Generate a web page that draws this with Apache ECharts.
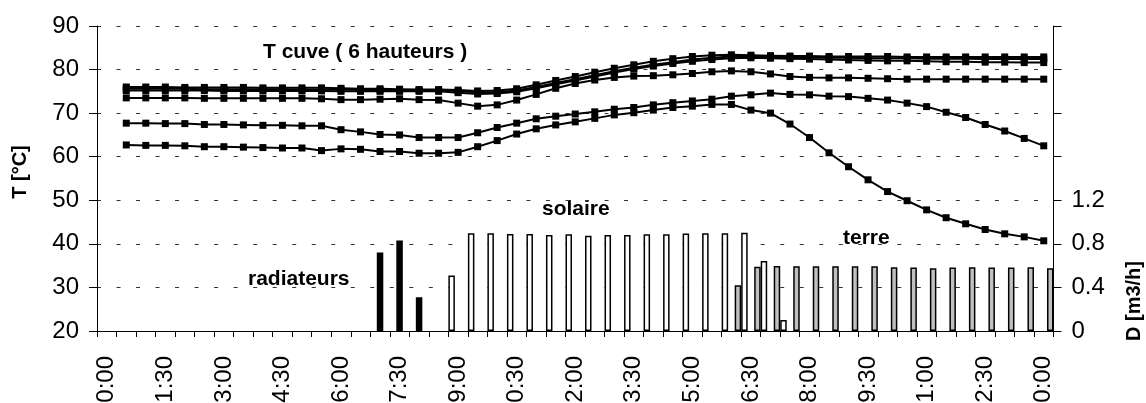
<!DOCTYPE html>
<html><head><meta charset="utf-8">
<script src="https://cdn.jsdelivr.net/npm/echarts@6/dist/echarts.min.js"></script>
<style>html,body{margin:0;padding:0;background:#fff}#c{width:1146px;height:403px}</style>
</head><body><div id="c"></div>
<script>
var categories = ["0:00","0:30","1:00","1:30","2:00","2:30","3:00","3:30","4:00","4:30","5:00","5:30","6:00","6:30","7:00","7:30","8:00","8:30","9:00","9:30","10:00","10:30","11:00","11:30","12:00","12:30","13:00","13:30","14:00","14:30","15:00","15:30","16:00","16:30","17:00","17:30","18:00","18:30","19:00","19:30","20:00","20:30","21:00","21:30","22:00","22:30","23:00","23:30","0:00"];
var yLeftTicks = [20,30,40,50,60,70,80,90];
var yRightTicks = ["0","0.4","0.8","1.2"];
// tank temperatures (6 heights), values at 0:30 .. 24:00
var t1 = [76.0,76.0,76.0,75.9,75.9,75.9,75.9,75.8,75.8,75.8,75.8,75.7,75.6,75.6,75.5,75.4,75.4,75.3,75.1,75.2,75.6,76.5,77.5,78.4,79.4,80.3,81.1,81.9,82.5,83.0,83.3,83.4,83.3,83.2,83.1,83.1,83.0,83.0,83.0,83.0,82.9,82.9,82.9,82.9,82.9,82.9,82.9,82.9];
var t2 = [75.6,75.6,75.6,75.6,75.5,75.5,75.5,75.5,75.5,75.4,75.4,75.4,75.3,75.3,75.3,75.3,75.3,75.0,74.8,74.8,75.2,76.0,76.9,77.8,78.7,79.6,80.4,81.1,81.7,82.3,82.7,83.0,83.0,82.9,82.8,82.8,82.7,82.7,82.6,82.6,82.6,82.5,82.5,82.5,82.4,82.4,82.4,82.4];
var t3 = [75.2,75.2,75.2,75.2,75.2,75.1,75.1,75.1,75.1,75.1,75.1,75.0,75.0,75.0,75.0,75.0,75.0,74.7,74.4,74.5,74.9,75.7,76.6,77.5,78.4,79.3,80.1,80.8,81.4,81.9,82.3,82.6,82.7,82.6,82.5,82.4,82.3,82.2,82.1,82.0,82.0,81.9,81.8,81.8,81.7,81.7,81.6,81.6];
var t4 = [73.5,73.5,73.5,73.5,73.4,73.4,73.4,73.4,73.4,73.4,73.3,73.1,73.1,73.2,73.3,73.1,73.0,72.3,71.6,71.9,73.0,74.3,75.7,76.8,77.6,78.2,78.5,78.6,78.8,79.1,79.5,79.7,79.5,79.0,78.4,78.2,78.1,78.1,78.0,77.9,77.8,77.8,77.8,77.8,77.8,77.8,77.8,77.8];
var t5 = [67.7,67.7,67.6,67.6,67.4,67.4,67.3,67.2,67.2,67.1,67.1,66.2,65.7,65.1,65.0,64.4,64.4,64.4,65.5,66.7,67.7,68.7,69.3,69.8,70.3,70.9,71.3,71.9,72.4,72.8,73.2,73.9,74.2,74.6,74.3,74.2,73.9,73.8,73.4,73.0,72.3,71.5,70.2,69.0,67.4,65.9,64.2,62.5];
var t6 = [62.7,62.6,62.6,62.5,62.3,62.3,62.2,62.1,62.0,62.0,61.4,61.8,61.7,61.2,61.2,60.8,60.8,61.0,62.3,63.7,65.2,66.4,67.3,68.0,68.8,69.6,70.1,70.7,71.3,71.6,72.0,72.0,70.7,70.0,67.5,64.4,60.9,57.7,54.7,52.0,49.9,47.8,46.0,44.6,43.3,42.3,41.6,40.7];
// flow rates D [m3/h], one per category (null = none)
var radiateurs = [null,null,null,null,null,null,null,null,null,null,null,null,null,null,0.72,0.83,0.31,null,null,null,null,null,null,null,null,null,null,null,null,null,null,null,null,null,null,null,null,null,null,null,null,null,null,null,null,null,null,null,null];
var solaire = [null,null,null,null,null,null,null,null,null,null,null,null,null,null,null,null,null,null,0.51,0.897,0.897,0.891,0.891,0.882,0.888,0.875,0.882,0.882,0.888,0.888,0.894,0.897,0.897,0.903,0.643,0.10,null,null,null,null,null,null,null,null,null,null,null,null,null];
var terre = [null,null,null,null,null,null,null,null,null,null,null,null,null,null,null,null,null,null,null,null,null,null,null,null,null,null,null,null,null,null,null,null,0.42,0.59,0.597,0.594,0.594,0.594,0.594,0.594,0.585,0.582,0.575,0.582,0.585,0.582,0.582,0.585,0.575];

var FONT = "'Liberation Sans', Arial, sans-serif";
function lineSeries(name, vals) {
  return {
    name: name, type: 'line', yAxisIndex: 0, data: [null].concat(vals),
    symbol: 'rect', symbolSize: 7, showSymbol: true,
    lineStyle: {color: '#000', width: 2}, itemStyle: {color: '#000'},
    z: 5, animation: false
  };
}
function barSeries(name, vals, fill) {
  return {
    name: name, type: 'bar', yAxisIndex: 1, data: vals,
    barGap: '0%', barCategoryGap: '0%',
    itemStyle: {color: fill, borderColor: '#000', borderWidth: 1.5},
    z: 3, animation: false
  };
}
var chart = echarts.init(document.getElementById('c'), null, {renderer: 'canvas'});
chart.setOption({
  animation: false,
  backgroundColor: '#fff',
  textStyle: {fontFamily: FONT},
  grid: {left: 97, right: 92.5, top: 26, bottom: 72, containLabel: false, outerBoundsMode: 'none'},
  xAxis: {
    type: 'category', data: categories, boundaryGap: true,
    axisLine: {lineStyle: {color: '#000', width: 1}},
    axisTick: {show: true, interval: 0, length: 6, lineStyle: {color: '#000'}},
    axisLabel: {interval: 2, rotate: 90, margin: 25, fontSize: 24, color: '#000', fontFamily: FONT, hideOverlap: false},
    splitLine: {show: false}
  },
  yAxis: [{
    type: 'value', min: 20, max: 90, interval: 10, position: 'left',
    axisLine: {show: true, lineStyle: {color: '#000', width: 1}},
    axisTick: {show: true, length: 8, lineStyle: {color: '#000'}},
    axisLabel: {fontSize: 24, color: '#000', margin: 18, fontFamily: FONT,
      formatter: function (v) { return yLeftTicks.indexOf(v) >= 0 ? String(v) : ''; }},
    splitLine: {show: true, lineStyle: {color: '#333', width: 1, type: [4, 15.52]}}
  }, {
    type: 'value', min: 0, max: 2.8, interval: 0.4, position: 'right',
    axisLine: {show: true, lineStyle: {color: '#000', width: 1}},
    axisTick: {show: true, length: 8, lineStyle: {color: '#000'}},
    axisLabel: {fontSize: 24, color: '#000', margin: 18, fontFamily: FONT,
      formatter: function (v) { var i = Math.round(v / 0.4); return i < yRightTicks.length ? yRightTicks[i] : ''; }},
    splitLine: {show: false}
  }],
  series: [
    barSeries('solaire', solaire, '#fff'),
    barSeries('radiateurs', radiateurs, '#000'),
    barSeries('terre', terre, '#c0c0c0'),
    lineSeries('T1', t1), lineSeries('T2', t2), lineSeries('T3', t3),
    lineSeries('T4', t4), lineSeries('T5', t5), lineSeries('T6', t6)
  ],
  graphic: [
    {type: 'text', x: 263, y: 52, style: {text: 'T cuve ( 6 hauteurs )', font: 'bold 21px ' + FONT, fill: '#000', align: 'left', verticalAlign: 'middle'}},
    {type: 'text', x: 248, y: 279, style: {text: 'radiateurs', font: 'bold 21px ' + FONT, fill: '#000', align: 'left', verticalAlign: 'middle'}},
    {type: 'text', x: 542, y: 209, style: {text: 'solaire', font: 'bold 21px ' + FONT, fill: '#000', align: 'left', verticalAlign: 'middle'}},
    {type: 'text', x: 843, y: 238.5, style: {text: 'terre', font: 'bold 21px ' + FONT, fill: '#000', align: 'left', verticalAlign: 'middle'}},
    {type: 'text', x: 20, y: 172, rotation: Math.PI / 2, style: {text: 'T [°C]', font: 'bold 20px ' + FONT, fill: '#000', align: 'center', verticalAlign: 'middle'}},
    {type: 'text', x: 1134, y: 301, rotation: Math.PI / 2, style: {text: 'D [m3/h]', font: 'bold 20px ' + FONT, fill: '#000', align: 'center', verticalAlign: 'middle'}}
  ]
});
</script></body></html>
